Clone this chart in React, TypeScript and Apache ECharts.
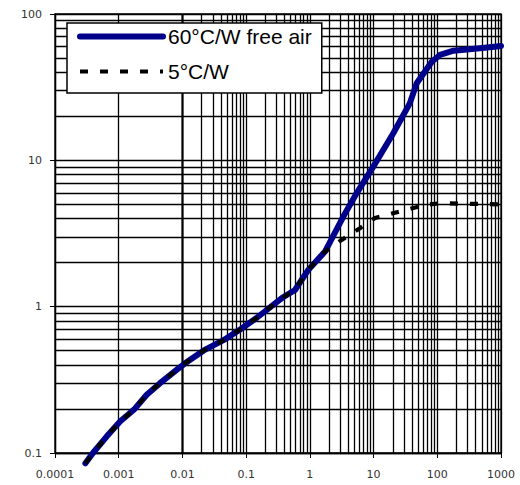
import React, { useEffect, useRef } from 'react';
import * as echarts from 'echarts';

const xTickValues = [0.0001, 0.001, 0.01, 0.1, 1, 10, 100, 1000];
const xTickLabels = ['0.0001', '0.001', '0.01', '0.1', '1', '10', '100', '1000'];
const yTickValues = [0.1, 1, 10, 100];
const yTickLabels = ['0.1', '1', '10', '100'];
const minorMultipliers = [2, 3, 4, 5, 6, 7, 8, 9];

const seriesNames = ['60°C/W free air', '5°C/W'];

const freeAirX = [0.0003, 0.000394, 0.00065, 0.00105, 0.00174, 0.00275, 0.00445, 0.0081, 0.011, 0.0213, 0.044, 0.085, 0.147, 0.38, 0.585, 0.95, 1.73, 3.35, 5.44, 9.9, 20.4, 37, 47.5, 82, 110, 180, 470, 1000];
const freeAirY = [0.085, 0.1, 0.13, 0.164, 0.198, 0.25, 0.3, 0.37, 0.41, 0.5, 0.59, 0.71, 0.84, 1.16, 1.3, 1.79, 2.38, 4.13, 5.97, 9.06, 15.3, 24.5, 33.6, 47.2, 52.5, 56.1, 58.3, 60.4];

const heatsinkX = [0.0003, 0.000394, 0.00065, 0.00105, 0.00174, 0.00275, 0.00445, 0.0081, 0.011, 0.0213, 0.044, 0.085, 0.147, 0.38, 0.585, 0.95, 1.73, 3.16, 6.12, 10.5, 29.3, 68, 110, 1000];
const heatsinkY = [0.085, 0.1, 0.13, 0.164, 0.198, 0.25, 0.3, 0.37, 0.41, 0.5, 0.59, 0.71, 0.84, 1.16, 1.3, 1.79, 2.38, 2.86, 3.44, 4.03, 4.54, 4.97, 5.09, 5.0];

function labelFor(values: number[], labels: string[]) {
  return (v: number) => {
    const i = values.findIndex((t) => Math.abs(Math.log10(t) - Math.log10(v)) < 1e-6);
    return i >= 0 ? labels[i] : '';
  };
}

function minorLines(decades: number[]) {
  const out: number[] = [];
  for (let i = 0; i < decades.length - 1; i++) {
    for (const m of minorMultipliers) out.push(decades[i] * m);
  }
  return out;
}

export default function App() {
  const ref = useRef<HTMLDivElement>(null);

  useEffect(() => {
    document.body.style.margin = '0';
    const chart = echarts.init(ref.current!, undefined, { renderer: 'svg' });
    const gridLine = { color: '#000', width: 1.3, type: 'solid' as const };
    const axisLabelStyle = { fontFamily: 'DejaVu Sans', fontSize: 11, color: '#333' };
    const markData = [
      ...minorLines(xTickValues).map((v) => ({ xAxis: v })),
      ...minorLines(yTickValues).map((v) => ({ yAxis: v })),
    ];
    chart.setOption({
      animation: false,
      grid: {
        left: 55, right: 19, top: 14, bottom: 32,
        containLabel: false, outerBoundsMode: 'none',
        show: true, borderColor: '#000', borderWidth: 1.3, backgroundColor: 'transparent',
      },
      legend: {
        orient: 'vertical',
        left: 67,
        top: 23,
        itemWidth: 83,
        itemHeight: 22,
        itemGap: 14,
        padding: [3, 10, 11, 10],
        backgroundColor: '#fff',
        borderColor: '#000',
        borderWidth: 1.5,
        borderRadius: 0,
        textStyle: { fontFamily: 'Liberation Sans, Arial', fontSize: 21, color: '#000' },
        itemStyle: { opacity: 0 },
        lineStyle: { width: 'inherit' },
        data: seriesNames,
      },
      xAxis: {
        type: 'log',
        logBase: 10,
        min: xTickValues[0],
        max: xTickValues[xTickValues.length - 1],
        splitNumber: 7,
        axisLine: { show: true, lineStyle: { color: '#000', width: 1.3 } },
        axisTick: { show: true, length: 5, lineStyle: { color: '#000' } },
        axisLabel: { ...axisLabelStyle, margin: 16, formatter: labelFor(xTickValues, xTickLabels) },
        splitLine: { show: true, lineStyle: gridLine },
        minorTick: { show: false },
      },
      yAxis: {
        type: 'log',
        logBase: 10,
        min: yTickValues[0],
        max: yTickValues[yTickValues.length - 1],
        splitNumber: 3,
        axisLine: { show: true, lineStyle: { color: '#000', width: 1.3 } },
        axisTick: { show: true, length: 5, lineStyle: { color: '#000' } },
        axisLabel: { ...axisLabelStyle, margin: 13, formatter: labelFor(yTickValues, yTickLabels) },
        splitLine: { show: true, lineStyle: gridLine },
      },
      series: [
        {
          name: seriesNames[0],
          type: 'line',
          z: 2,
          clip: false,
          symbol: 'none',
          showSymbol: false,
          smooth: false,
          data: freeAirX.map((x, i) => [x, freeAirY[i]]),
          lineStyle: { color: '#00008B', width: 6, cap: 'round', join: 'round' },
          itemStyle: { color: '#00008B' },
          markLine: {
            z: 1,
            silent: true,
            symbol: ['none', 'none'],
            label: { show: false },
            emphasis: { disabled: true },
            lineStyle: { color: '#000', width: 1.3, type: 'solid' },
            animation: false,
            data: markData,
          },
        },
        {
          name: seriesNames[1],
          type: 'line',
          z: 10,
          clip: false,
          symbol: 'none',
          showSymbol: false,
          data: heatsinkX.map((x, i) => [x, heatsinkY[i]]),
          lineStyle: { color: '#000', width: 4.2, type: [8, 12], cap: 'butt' },
          itemStyle: { color: '#000' },
        },
      ],
    });
    return () => chart.dispose();
  }, []);

  return <div ref={ref} style={{ width: 520, height: 485 }} />;
}
